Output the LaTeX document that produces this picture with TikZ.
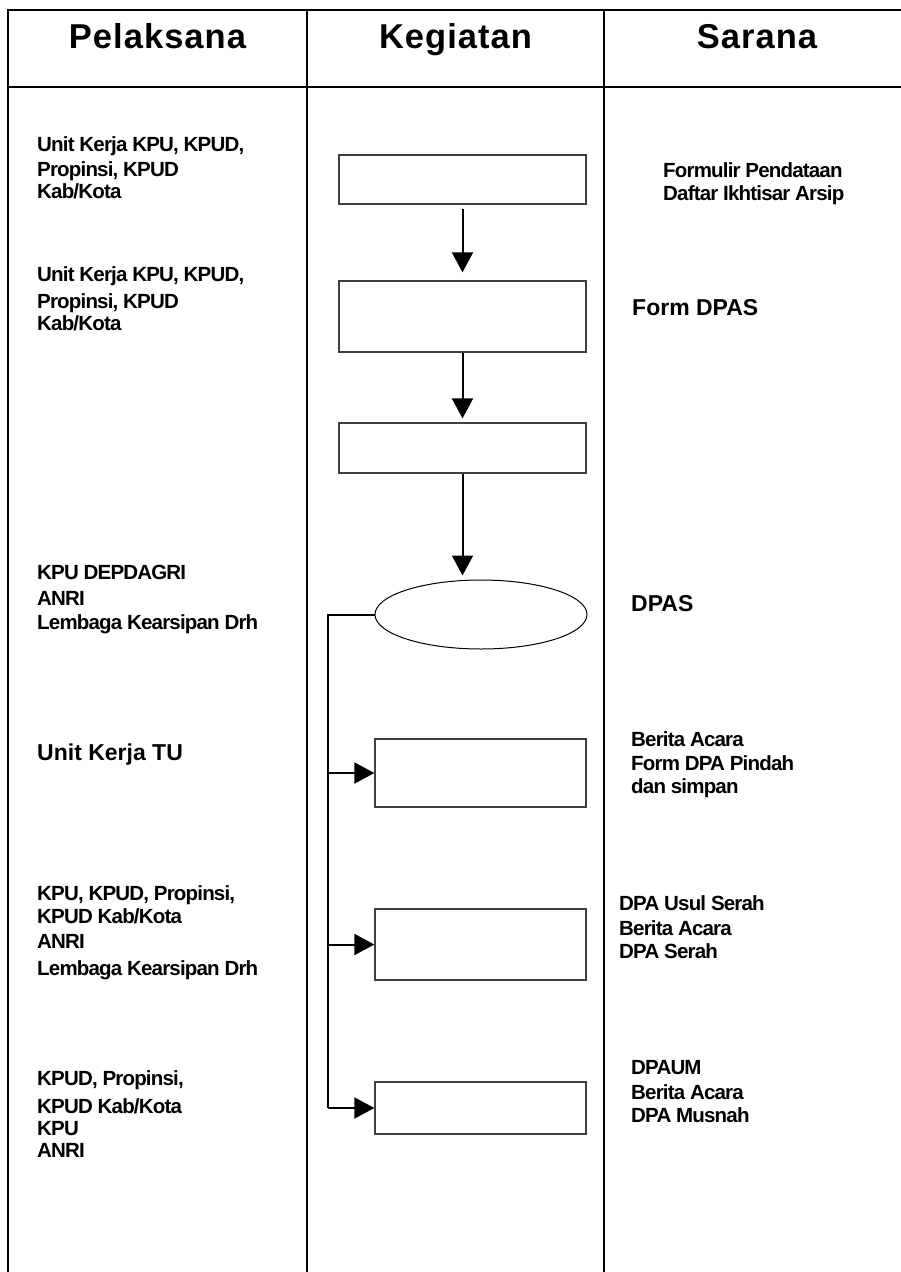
\documentclass[tikz,border=0pt]{standalone}
\usepackage{fontspec}
\setmainfont{Liberation Sans}
\newfontfamily\hdrfont[LetterSpace=3]{Liberation Sans}
\newfontfamily\txtfont[LetterSpace=-4]{Liberation Sans}
\usetikzlibrary{arrows.meta,shapes.geometric}
\begin{document}
\begin{tikzpicture}[x=1pt,y=-1pt,
  tbl/.style={line width=2.4pt,line cap=rect},
  actbox/.style={draw=black!75,line width=1.3pt,rectangle,inner sep=0pt},
  oval/.style={draw=black,line width=1pt,ellipse,inner sep=0pt},
  flow/.style={line width=2pt,-{Triangle[length=20pt,width=21pt]}},
  spine/.style={line width=2pt},
  hdr/.style={font=\hdrfont\bfseries\fontsize{34.5}{40}\selectfont,anchor=base,inner sep=0pt},
  sml/.style={font=\txtfont\bfseries\fontsize{20.5}{23.5}\selectfont,align=left,anchor=north west,inner sep=0pt},
  mid/.style={font=\bfseries\fontsize{23}{27}\selectfont,anchor=base west,inner sep=0pt}]
\useasboundingbox (0,0) rectangle (901,1272);
\clip (0,0) rectangle (901,1272);
\fill[white] (0,0) rectangle (901,1272);
% table
\draw[tbl] (8,10) rectangle (910,1290);
\draw[tbl] (8,87) -- (910,87);
\draw[tbl] (307,10) -- (307,1290);
\draw[tbl] (604,10) -- (604,1290);
% headers
\node[hdr] (h1) at (157.5,48) {Pelaksana};
\node[hdr] (h2) at (455.5,48) {Kegiatan};
\node[hdr] (h3) at (757,48) {Sarana};
% activity shapes
\node[actbox,minimum width=247pt,minimum height=49pt] (b1) at (462.5,179.5) {};
\node[actbox,minimum width=247pt,minimum height=71pt] (b2) at (462.5,316.5) {};
\node[actbox,minimum width=247pt,minimum height=50pt] (b3) at (462.5,448) {};
\node[oval,minimum width=212pt,minimum height=69pt] (ell) at (481,614.5) {};
\node[actbox,minimum width=211pt,minimum height=68pt] (b4) at (480.5,773) {};
\node[actbox,minimum width=211pt,minimum height=71pt] (b5) at (480.5,944.5) {};
\node[actbox,minimum width=211pt,minimum height=52pt] (b6) at (480.5,1108) {};
% vertical flow
\draw[flow,shorten <=4pt,shorten >=8pt] (b1.south) -- (b2.north);
\draw[flow,shorten >=4pt] (b2.south) -- (b3.north);
\draw[flow,shorten >=4pt] (b3.south) -- (b3.south |- ell.north);
% branch connector
\coordinate (sp0) at (328,614.5);
\coordinate (sp3) at (328,1108);
\draw[spine] (ell.west) -- (sp0) -- (sp3);
\draw[flow] (sp0 |- b4.west) -- (b4.west);
\draw[flow] (sp0 |- b5.west) -- (b5.west);
\draw[flow] (sp3) -- (b6.west);
% Pelaksana texts
\node[sml] (p1) at (37,136) {Unit Kerja KPU, KPUD,\\[1.5pt]Propinsi, KPUD\\[-1.5pt]Kab/Kota};
\node[sml] (p2) at (37,266) {Unit Kerja KPU, KPUD,\\[3.5pt]Propinsi, KPUD\\[-1.5pt]Kab/Kota};
\node[sml] (p3) at (37,565) {KPU DEPDAGRI\\[2.5pt]ANRI\\[0.5pt]Lembaga Kearsipan Drh};
\node[mid] (p4) at (37,760) {Unit Kerja TU};
\node[sml] (p5) at (37,885) {KPU, KPUD, Propinsi,\\[-0.5pt]KPUD Kab/Kota\\[1.5pt]ANRI\\[3.5pt]Lembaga Kearsipan Drh};
\node[sml] (p6) at (37,1070) {KPUD, Propinsi,\\[4.5pt]KPUD Kab/Kota\\[-1.5pt]KPU\\[-1.5pt]ANRI};
% Sarana texts
\node[sml] (s1) at (663,162) {Formulir Pendataan\\[-0.5pt]Daftar Ikhtisar Arsip};
\node[mid] (s2) at (632,315) {Form DPAS};
\node[mid] (s3) at (631,611) {DPAS};
\node[sml] (s4) at (631,731) {Berita Acara\\[0.5pt]Form DPA Pindah\\[-0.5pt]dan simpan};
\node[sml] (s5) at (619,895) {DPA Usul Serah\\[1.5pt]Berita Acara\\[-0.5pt]DPA Serah};
\node[sml] (s6) at (631,1060) {DPAUM\\[1.5pt]Berita Acara\\[-0.5pt]DPA Musnah};
\end{tikzpicture}
\end{document}
